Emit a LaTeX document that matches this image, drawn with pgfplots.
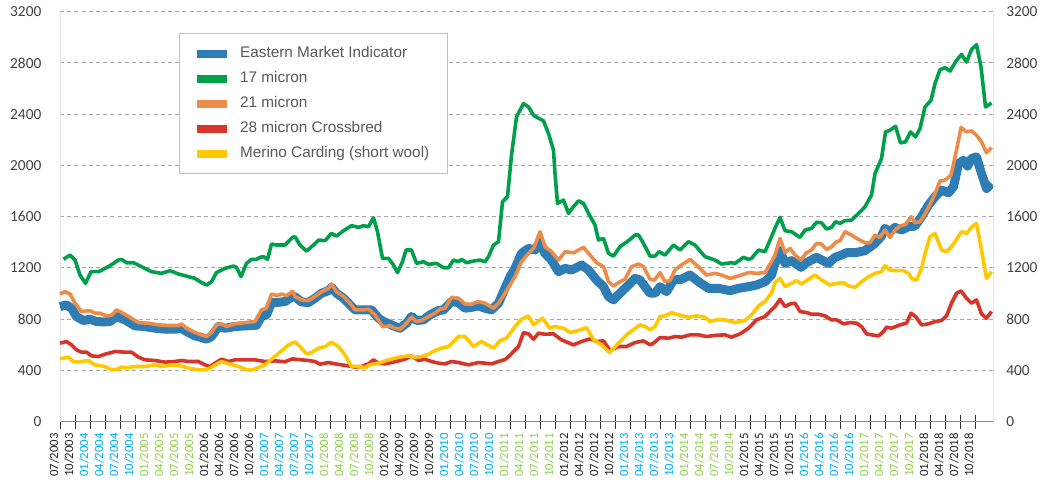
\documentclass[border=0pt]{standalone}
\usepackage{pgfplots}
\pgfplotsset{compat=1.18}
\usepackage{fontspec}
\setmainfont{Carlito}
\newfontfamily\legfont{Liberation Sans}
\definecolor{cBlue}{RGB}{46,125,180}
\definecolor{cGreen}{RGB}{0,160,75}
\definecolor{cOrange}{RGB}{237,140,72}
\definecolor{cRed}{RGB}{216,53,42}
\definecolor{cYellow}{RGB}{255,200,0}
\definecolor{lK}{RGB}{38,38,38}
\definecolor{lB}{RGB}{0,176,240}
\definecolor{lG}{RGB}{146,208,80}
\definecolor{tickc}{RGB}{64,64,64}
\newcommand{\K}[1]{\textcolor{lK}{#1}}
\newcommand{\B}[1]{\textcolor{lB}{#1}}
\newcommand{\G}[1]{\textcolor{lG}{#1}}
\begin{document}
\begin{tikzpicture}
\useasboundingbox (0,0) rectangle (786pt,363pt);
\begin{axis}[
  at={(45pt,46.7pt)}, anchor=south west,
  scale only axis, width=699.75pt, height=307.5pt,
  xmin=0, xmax=186.6, ymin=0, ymax=3200,
  axis x line*=bottom, axis y line*=left,
  x axis line style={-, draw=black!45, line width=0.9pt},
  y axis line style={-, draw=black!10, line width=0.75pt},
  ytick={0,400,...,3200},
  ymajorgrids,
  major grid style={draw=black!35, line width=0.75pt, dash pattern=on 3pt off 2.4pt},
  major tick length=0pt,
  xtick={0,3,...,183},
  minor xtick={0,3,...,183},
  minor tick length=10.5pt,
  xtick align=center,
  minor x tick style={draw=black!80, line width=0.75pt},
  xticklabels={\K{07/2003},\K{10/2003},
   \B{01/2004},\B{04/2004},\B{07/2004},\B{10/2004},
   \G{01/2005},\G{04/2005},\G{07/2005},\G{10/2005},
   \K{01/2006},\K{04/2006},\K{07/2006},\K{10/2006},
   \B{01/2007},\B{04/2007},\B{07/2007},\B{10/2007},
   \G{01/2008},\G{04/2008},\G{07/2008},\G{10/2008},
   \K{01/2009},\K{04/2009},\K{07/2009},\K{10/2009},
   \B{01/2010},\B{04/2010},\B{07/2010},\B{10/2010},
   \G{01/2011},\G{04/2011},\G{07/2011},\G{10/2011},
   \K{01/2012},\K{04/2012},\K{07/2012},\K{10/2012},
   \B{01/2013},\B{04/2013},\B{07/2013},\B{10/2013},
   \G{01/2014},\G{04/2014},\G{07/2014},\G{10/2014},
   \K{01/2015},\K{04/2015},\K{07/2015},\K{10/2015},
   \B{01/2016},\B{04/2016},\B{07/2016},\B{10/2016},
   \G{01/2017},\G{04/2017},\G{07/2017},\G{10/2017},
   \K{01/2018},\K{04/2018},\K{07/2018},\K{10/2018}},
  xticklabel style={font=\fontsize{9.5}{10}\selectfont, xshift=-4.5pt, yshift=-6.5pt, rotate=90, anchor=east, inner sep=2pt},
  yticklabel style={font=\fontsize{11.5}{13}\selectfont, text=tickc, xshift=-10.5pt},
  /pgf/number format/1000 sep={},
  /pgf/number format/assume math mode=true,
  clip=false,
  legend style={at={(0.1275,0.948)}, anchor=north west, draw=black!25, line width=0.75pt, fill=white,
    font=\legfont\fontsize{11.5}{13}\selectfont, text=black!65,
    inner xsep=13pt, inner ysep=8.5pt, row sep=5.75pt, column sep=9pt,
    nodes={inner sep=1pt, text height=8.5pt, text depth=2.5pt}},
  legend cell align=left,
  legend image code/.code={\fill[draw=none, line width=0pt] (0pt,-3pt) rectangle (22.5pt,3pt);},
]
\addplot[color=cBlue, line width=6.75pt, line join=round] coordinates {
(0,899)(1.3,912)(2.3,886)(3.3,821)(4.7,790)(6,800)(7.3,782)(8.7,779)(10,782)(11.3,821)(13,795)(15,748)(17,743)(19,730)(21,722)(23,722)(24.2,730)(25.7,696)(27,670)(28.3,657)(29.3,644)(30.3,665)(31.7,743)(33,730)(35,743)(37,748)(39.3,753)(40.3,821)(41.3,834)(42.3,930)(43.3,930)(45,938)(46.5,977)
(47,975)(48.3,935)(49.7,930)(51,964)(52.3,1003)(53.7,1023)(54.3,1049)(55.3,1003)(56.7,964)(58,912)(59,873)(60.3,873)(62.3,873)(63.7,808)(64.7,782)(66,761)(67,743)(68,730)(69.3,769)(70.3,821)(71.3,790)(72.7,795)(74,834)(75.7,867)(76.7,873)(78.3,938)(79.7,930)(81,886)(82.3,893)(83.7,904)(85,886)(86.3,873)(87.7,925)(88.7,1015)(90,1132)(91,1197)(92.3,1314)(93.7,1353)
(95,1340)(96,1405)(97,1314)(98.3,1262)(99.7,1171)(101,1197)(102.3,1184)(104.3,1223)(105.7,1184)(107.3,1106)(108.7,1054)(109.7,977)(110.7,951)(112,1003)(113.7,1067)(115,1119)(116,1106)(118,1003)(119,1003)(120,1054)(121.3,1015)(122.7,1106)(124.3,1112)(126,1145)(127.7,1093)(129.7,1041)(131.7,1041)(134,1023)(135.7,1041)(137.7,1054)(139.3,1067)(141,1093)(142.3,1145)
(143,1236)(144,1335)(145,1236)(146.3,1257)(148.2,1205)(149.3,1241)(151.3,1283)(153.7,1236)(155,1283)(156.3,1301)(157.3,1319)(159,1319)(161,1335)(163,1392)(164.3,1449)(165,1509)(166,1483)(167,1517)(168.3,1496)(169.7,1522)(171,1527)(172.3,1600)(173.7,1691)(175,1756)(176.3,1808)(177.7,1787)(178.7,1834)(179.7,2015)(180.7,2041)(181.5,1995)(182.3,2054)(183.3,2067)(184.3,1937)(185.3,1821)(186.3,1860)};
\addlegendentry{Eastern Market Indicator}
\addplot[color=cGreen, line width=2.7pt, line join=round] coordinates {
(0.7,1268)(2,1301)(3,1262)(4,1145)(5.1,1080)(6.2,1171)(7.7,1171)(9.7,1210)(11.7,1262)(12.3,1267)(13.3,1241)(14.7,1241)(16.3,1210)(18.3,1171)(20.3,1158)(22,1179)(23.7,1153)(25.7,1132)(27,1119)(28.3,1086)(29.3,1067)(30.3,1093)(31.3,1164)(33,1197)(34.7,1215)(35.3,1205)(36.2,1132)(37.3,1236)(38.3,1267)(39.3,1267)(40,1283)(40.7,1288)(41.5,1267)(42.3,1387)(43.3,1379)(45,1379)(46.5,1439)
(47,1444)(48,1379)(49.3,1332)(50.7,1379)(51.7,1418)(53,1413)(54.3,1470)(55.3,1449)(56.7,1491)(58.3,1530)(59.7,1517)(60.7,1530)(61.7,1522)(62.7,1592)(63.5,1483)(64.5,1275)(65.7,1275)(66.7,1223)(67.5,1164)(68.5,1249)(69.2,1340)(70.3,1340)(71.3,1236)(72.7,1249)(73.7,1228)(75.3,1236)(76.7,1202)(77.7,1202)(78.7,1262)(79.7,1249)(80.3,1267)(81.3,1241)(82.7,1254)(84,1262)(85,1249)(85.7,1288)(86.7,1379)(87.7,1405)(88.5,1717)(89.5,1756)(90.3,2080)(91.3,2379)(92.7,2483)(93.7,2457)(94.7,2392)
(95,2384)(96.7,2348)(97.7,2249)(98.7,2119)(99,1937)(99.5,1704)(100.7,1730)(101.7,1626)(102.7,1678)(103.7,1724)(104.7,1704)(105.7,1626)(107,1535)(107.7,1418)(108.7,1431)(109.7,1314)(110.7,1293)(112,1366)(113.7,1413)(115,1457)(115.7,1457)(116.7,1392)(118,1293)(119,1293)(119.8,1327)(121,1301)(122.7,1379)(124,1340)(125.7,1405)(127,1379)(129,1288)(131,1262)(132.3,1231)(134.3,1241)(135,1236)(136.7,1283)(137.7,1267)(138.3,1275)(139.7,1340)(141,1327)(142.3,1444)
(143,1510)(144,1595)(145,1491)(146.3,1483)(148,1439)(149,1496)(150.3,1509)(151.3,1556)(152.3,1553)(153.3,1504)(154.3,1517)(155.1,1561)(156,1548)(157,1569)(158.3,1574)(159.7,1626)(161,1678)(162.3,1769)(163,1937)(164.3,2054)(165.1,2262)(166,2275)(167.1,2306)(168.1,2176)(169.1,2184)(170.1,2262)(171.1,2223)(172,2288)(173,2457)(174.2,2509)(175,2639)(176,2748)(177,2763)(178,2737)(179.3,2820)(180.3,2867)(181.3,2807)(182.3,2904)(183.3,2943)(184.2,2768)(185.1,2457)(186.3,2488)};
\addlegendentry{17 micron}
\addplot[color=cOrange, line width=2.7pt, line join=round] coordinates {
(0,997)(1,1015)(2,997)(3,925)(4.3,860)(6,867)(7,847)(8,847)(9.3,826)(10.3,831)(11.3,873)(12.3,854)(14.3,808)(15.7,774)(17.7,769)(19.7,756)(21.7,751)(23.7,751)(24.3,764)(25.3,730)(27,696)(28.3,678)(29.3,665)(30.3,696)(31.3,756)(32.3,764)(33.3,743)(35,764)(37,774)(39,782)(40.3,873)(41.3,886)(42.3,997)(43.3,984)(44.3,997)(45.3,984)(46.5,1018)
(47,977)(48.3,951)(49.7,945)(51,977)(52.3,1015)(53.7,1041)(54.3,1075)(55.3,1015)(56.7,977)(58,925)(59,873)(60.3,873)(61.7,878)(63,834)(64.5,743)(66,748)(67,730)(68,722)(69,756)(70.3,816)(71.3,782)(72.3,790)(73.7,821)(75,847)(76,880)(77,886)(78.3,971)(79.7,964)(81,919)(82.3,917)(83.7,938)(85,925)(86.7,886)(87.7,925)(89,1003)(91,1132)(92.3,1249)(93.7,1314)(94.7,1353)
(95,1380)(96,1483)(97,1366)(98.3,1327)(99.7,1262)(101,1327)(102.7,1319)(104.7,1361)(106,1301)(107.3,1241)(108.7,1210)(109.7,1093)(110.7,1060)(112,1093)(113,1112)(114.3,1210)(115.7,1231)(116.7,1210)(118,1112)(118.9,1106)(120,1164)(121,1093)(122,1101)(123,1184)(124.3,1223)(126,1267)(127.3,1223)(129.3,1145)(131,1158)(132.3,1145)(134,1119)(135.7,1138)(137.7,1164)(139.3,1158)(141,1164)(142.3,1249)
(143,1300)(144,1431)(145,1319)(146,1353)(147,1301)(148.2,1262)(149.3,1319)(150.3,1340)(151.3,1392)(152.3,1387)(153.3,1345)(154.3,1366)(155.3,1405)(156,1413)(157,1483)(158.3,1457)(159.7,1423)(161,1397)(162,1397)(163,1457)(164,1439)(165,1496)(166,1439)(167,1496)(168,1527)(169.1,1540)(170.2,1600)(171,1553)(172,1561)(173,1621)(174,1696)(175,1782)(176,1878)(177,1886)(178.2,1924)(179.3,2119)(180.2,2296)(181.3,2262)(182.3,2270)(183.3,2236)(184.3,2184)(185.3,2099)(186.3,2140)};
\addlegendentry{21 micron}
\addplot[color=cRed, line width=2.7pt, line join=round] coordinates {
(0,613)(1.3,626)(2.3,600)(3.3,561)(4.3,543)(5.3,543)(6.3,514)(7.7,509)(9,527)(11,548)(13,543)(14.3,543)(15.7,504)(17,483)(19,478)(21,465)(23,470)(24.3,478)(25.7,470)(27.7,470)(29,444)(30,431)(31,457)(32.3,488)(33.7,470)(35,483)(37,483)(39,483)(41,470)(43,475)(45,468)(46.5,491)
(47,488)(48.3,483)(49.7,478)(51,470)(52,449)(53.7,462)(55,452)(56.3,444)(57.7,436)(59,426)(60.3,431)(61.7,452)(62.7,483)(63.7,457)(65,452)(66.3,462)(67.7,475)(69,488)(70.3,514)(71.7,478)(73,488)(74.3,470)(75.7,457)(77,452)(78.3,470)(79.7,462)(81.7,444)(83.7,462)(85,457)(86.3,452)(87.7,470)(89,485)(90,520)(90.7,548)(91.7,587)(92.7,696)(93.7,686)(94.7,644)
(95.7,691)(97,683)(98.7,686)(100.3,639)(102.7,600)(104.3,626)(106,647)(107.3,626)(108.7,631)(110,555)(111.7,587)(113.3,587)(115,618)(116.7,631)(118,600)(118.7,613)(120,657)(121.7,652)(123,665)(124.3,660)(126,678)(127.7,678)(129.3,665)(131.3,675)(133,678)(134.3,660)(136,686)(137.7,730)(139.3,795)(141,821)(142.3,873)
(143,899)(144,956)(145,899)(146,919)(147,925)(148,860)(149.3,852)(150.3,839)(151.7,839)(153,826)(154.3,795)(155.3,795)(156.7,764)(158,774)(159.3,769)(160.3,743)(161.3,686)(162.3,678)(163.7,670)(164.7,704)(165.3,738)(166.3,730)(168,756)(169.3,769)(170.2,847)(171.1,821)(172.3,756)(173.7,764)(175,782)(176.3,790)(177.3,826)(178.3,925)(179.3,1003)(180.2,1021)(181.3,964)(182.3,925)(183.3,951)(184.3,842)(185.3,808)(186.3,860)};
\addlegendentry{28 micron Crossbred}
\addplot[color=cYellow, line width=2.7pt, line join=round] coordinates {
(0,491)(1.7,504)(2.7,468)(4,468)(5.7,478)(7,444)(9,431)(10.3,405)(11.3,408)(12.3,426)(13.3,421)(15,431)(17,431)(19,444)(20.3,431)(22.3,444)(24.3,436)(25.7,418)(27.7,405)(29.3,405)(30.3,426)(32.3,470)(33.7,452)(35.7,431)(37.3,405)(38.3,403)(39.7,423)(41,444)(42.3,488)(44.3,553)(45.7,600)(47,623)
(48,587)(49.3,530)(50.3,540)(51.7,574)(53,587)(54.3,621)(55.7,587)(57,522)(58.3,431)(59.7,431)(61,423)(62,444)(63.7,457)(65.7,483)(67.7,504)(69.7,514)(71,504)(72.3,509)(73.7,527)(75,556)(76.3,574)(77.7,587)(79.7,665)(81,665)(82.7,587)(84.3,626)(86.7,574)(88,633)(89.3,652)(91,743)(92.3,800)(93.7,826)(94.7,756)
(96.5,808)(97.9,730)(99,743)(100.7,730)(102,696)(103.7,712)(105.3,735)(106.7,639)(108.3,600)(109.9,540)(111.7,613)(113.7,691)(116,756)(117,743)(118,717)(119,743)(120,821)(121,826)(122.3,852)(123.7,834)(125.7,816)(127.3,826)(129,816)(130,782)(131.3,795)(133,795)(135,774)(137,790)(138.3,834)(139.7,904)(141,938)(142.3,1003)
(143,1086)(144,1119)(145,1055)(146.3,1080)(147.3,1101)(148.3,1075)(149.7,1112)(151,1145)(152.3,1106)(154,1067)(155.3,1080)(156.7,1086)(157.7,1060)(159,1049)(160.3,1093)(161.7,1132)(163,1158)(164.3,1171)(165,1218)(166,1184)(167.3,1179)(168.7,1179)(169.7,1158)(170.5,1112)(171.3,1106)(172.3,1197)(173,1314)(174,1444)(175,1470)(176.3,1340)(177.3,1327)(178.3,1366)(179.3,1423)(180.3,1483)(181.3,1470)(182.3,1517)(183.3,1548)(184.3,1340)(185.3,1119)(186.3,1171)};
\addlegendentry{Merino Carding (short wool)}
\end{axis}
\begin{axis}[
  at={(45pt,46.7pt)}, anchor=south west,
  scale only axis, width=699.75pt, height=307.5pt,
  xmin=0, xmax=186.6, ymin=0, ymax=3200,
  axis x line=none, axis y line*=right,
  y axis line style={-, draw=black!10, line width=0.75pt},
  ytick={0,400,...,3200},
  major tick length=0pt,
  yticklabel style={font=\fontsize{11.5}{13}\selectfont, text=tickc, xshift=6.5pt},
  /pgf/number format/1000 sep={},
  /pgf/number format/assume math mode=true,
]
\addplot[draw=none] coordinates {(0,0)(1,1)};
\end{axis}
\end{tikzpicture}
\end{document}
